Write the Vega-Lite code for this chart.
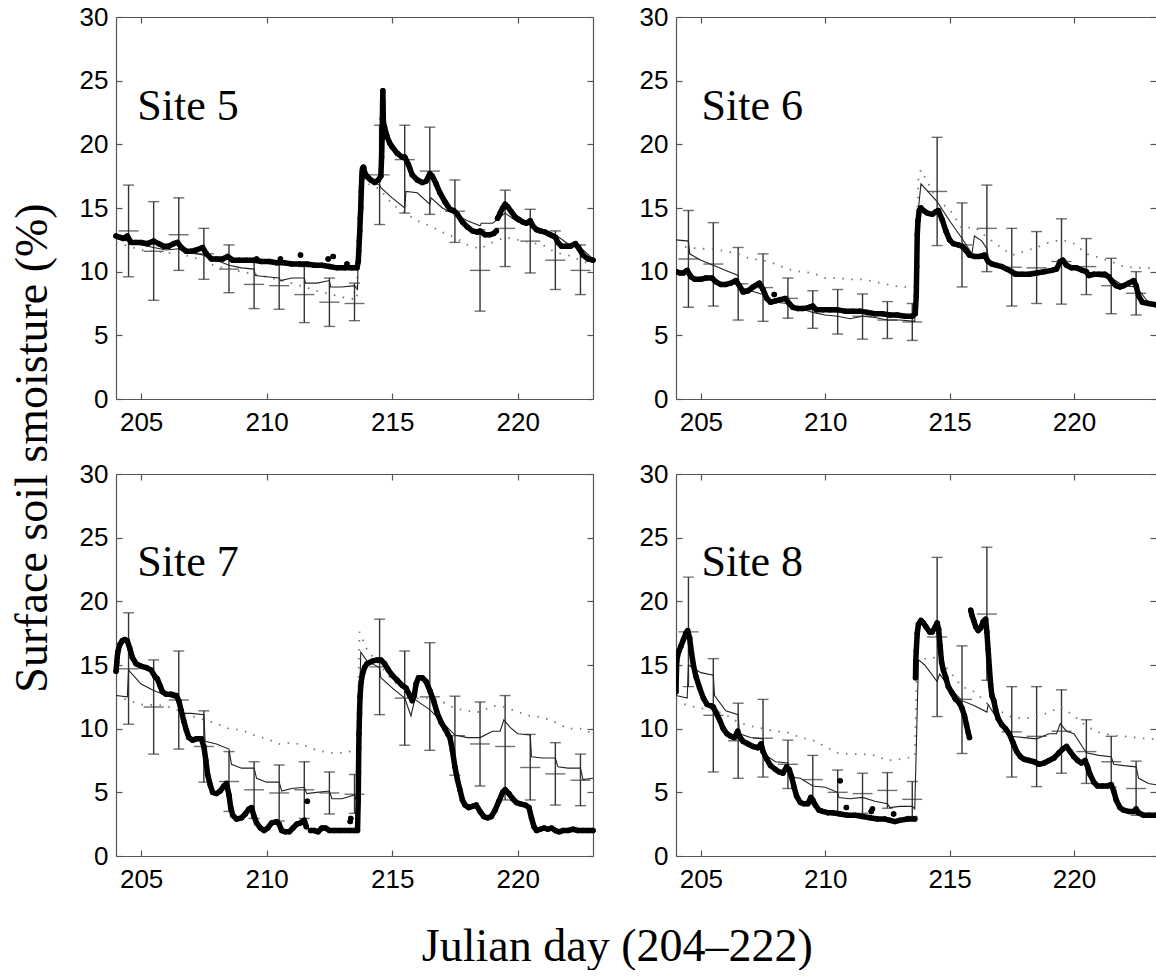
{
"$schema": "https://vega.github.io/schema/vega-lite/v6.json",
"background": "white",
"padding": {"left": 10, "top": 4, "right": 0, "bottom": 0},
"config": {
  "view": {"stroke": null},
  "axis": {"grid": false, "domainColor": "#555", "tickColor": "#555", "domainWidth": 1.2, "tickWidth": 1.2, "tickSize": -6, "labelFont": "Liberation Sans", "labelFontSize": 26, "labelColor": "#000", "labelFlush": false, "labelOverlap": false, "titleFontSize": 10},
  "axisBottom": {"labelPadding": 16},
  "axisLeft": {"labelPadding": 14},
  "axisTop": {"labels": false},
  "axisRight": {"labels": false},
  "title": {"font": "Liberation Serif", "fontSize": 46, "fontWeight": "normal", "color": "#000"}
},
"datasets": {
"err": [
{"s":5,"x":204.5,"lo":9.6,"hi":16.8,"m":13.2},{"s":5,"x":205.5,"lo":7.75,"hi":15.5,"m":11.6},{"s":5,"x":206.5,"lo":10.1,"hi":15.8,"m":12.9},{"s":5,"x":207.5,"lo":9.4,"hi":13.4,"m":11.4},{"s":5,"x":208.5,"lo":8.35,"hi":12.1,"m":10.2},{"s":5,"x":209.5,"lo":7.1,"hi":11.0,"m":9.0},{"s":5,"x":210.5,"lo":7.05,"hi":10.8,"m":8.9},{"s":5,"x":211.5,"lo":6.0,"hi":10.4,"m":8.2},{"s":5,"x":212.5,"lo":5.7,"hi":9.5,"m":7.6},{"s":5,"x":213.5,"lo":6.15,"hi":9.1,"m":7.5},{"s":5,"x":214.5,"lo":13.7,"hi":21.5,"m":17.6},{"s":5,"x":215.5,"lo":14.6,"hi":21.5,"m":18.8},{"s":5,"x":216.5,"lo":14.5,"hi":21.35,"m":17.9},{"s":5,"x":217.5,"lo":12.3,"hi":17.2,"m":14.75},{"s":5,"x":218.5,"lo":6.9,"hi":13.3,"m":10.1},{"s":5,"x":219.5,"lo":10.4,"hi":16.4,"m":13.4},{"s":5,"x":220.5,"lo":9.9,"hi":14.9,"m":12.4},{"s":5,"x":221.5,"lo":8.6,"hi":13.2,"m":10.9},{"s":5,"x":222.5,"lo":8.2,"hi":12.1,"m":10.1},
{"s":6,"x":204.5,"lo":7.2,"hi":14.8,"m":11.0},{"s":6,"x":205.5,"lo":7.3,"hi":13.85,"m":10.6},{"s":6,"x":206.5,"lo":6.2,"hi":11.9,"m":9.05},{"s":6,"x":207.5,"lo":6.1,"hi":11.4,"m":8.75},{"s":6,"x":208.5,"lo":6.35,"hi":9.5,"m":7.9},{"s":6,"x":209.5,"lo":5.55,"hi":8.5,"m":7.0},{"s":6,"x":210.5,"lo":5.1,"hi":8.6,"m":6.85},{"s":6,"x":211.5,"lo":4.7,"hi":8.25,"m":6.5},{"s":6,"x":212.5,"lo":4.75,"hi":7.65,"m":6.2},{"s":6,"x":213.5,"lo":4.6,"hi":7.5,"m":6.05},{"s":6,"x":214.5,"lo":12.05,"hi":20.55,"m":16.3},{"s":6,"x":215.5,"lo":8.8,"hi":15.4,"m":12.1},{"s":6,"x":216.5,"lo":10.0,"hi":16.8,"m":13.4},{"s":6,"x":217.5,"lo":7.3,"hi":13.4,"m":10.35},{"s":6,"x":218.5,"lo":7.5,"hi":13.15,"m":10.3},{"s":6,"x":219.5,"lo":7.45,"hi":14.15,"m":10.8},{"s":6,"x":220.5,"lo":8.2,"hi":12.6,"m":10.4},{"s":6,"x":221.5,"lo":6.7,"hi":11.05,"m":8.9},{"s":6,"x":222.5,"lo":6.6,"hi":10.0,"m":8.3},
{"s":7,"x":204.5,"lo":10.35,"hi":19.1,"m":14.7},{"s":7,"x":205.5,"lo":8.0,"hi":15.4,"m":11.7},{"s":7,"x":206.5,"lo":8.4,"hi":16.1,"m":12.25},{"s":7,"x":207.5,"lo":5.8,"hi":11.4,"m":8.6},{"s":7,"x":208.5,"lo":3.5,"hi":8.2,"m":5.85},{"s":7,"x":209.5,"lo":2.95,"hi":7.4,"m":5.2},{"s":7,"x":210.5,"lo":2.75,"hi":7.15,"m":4.95},{"s":7,"x":211.5,"lo":2.95,"hi":7.4,"m":5.2},{"s":7,"x":212.5,"lo":3.3,"hi":6.6,"m":4.95},{"s":7,"x":213.5,"lo":3.35,"hi":6.4,"m":4.85},{"s":7,"x":214.5,"lo":11.1,"hi":18.6,"m":14.85},{"s":7,"x":215.5,"lo":8.7,"hi":16.1,"m":12.4},{"s":7,"x":216.5,"lo":8.3,"hi":16.75,"m":12.5},{"s":7,"x":217.5,"lo":6.35,"hi":12.55,"m":9.45},{"s":7,"x":218.5,"lo":5.5,"hi":12.1,"m":8.8},{"s":7,"x":219.5,"lo":4.4,"hi":12.6,"m":8.6},{"s":7,"x":220.5,"lo":4.4,"hi":9.55,"m":6.95},{"s":7,"x":221.5,"lo":4.0,"hi":8.9,"m":6.45},{"s":7,"x":222.5,"lo":3.95,"hi":8.0,"m":5.95},
{"s":8,"x":204.5,"lo":13.3,"hi":21.9,"m":17.6},{"s":8,"x":205.5,"lo":6.6,"hi":15.5,"m":11.05},{"s":8,"x":206.5,"lo":6.1,"hi":12.0,"m":9.05},{"s":8,"x":207.5,"lo":6.2,"hi":12.3,"m":9.25},{"s":8,"x":208.5,"lo":5.3,"hi":9.1,"m":7.2},{"s":8,"x":209.5,"lo":4.1,"hi":7.9,"m":6.0},{"s":8,"x":210.5,"lo":3.3,"hi":6.75,"m":5.0},{"s":8,"x":211.5,"lo":3.35,"hi":6.5,"m":4.9},{"s":8,"x":212.5,"lo":3.75,"hi":6.55,"m":5.15},{"s":8,"x":213.5,"lo":3.1,"hi":5.85,"m":4.45},{"s":8,"x":214.5,"lo":10.95,"hi":23.45,"m":17.2},{"s":8,"x":215.5,"lo":8.05,"hi":16.5,"m":12.3},{"s":8,"x":216.5,"lo":13.8,"hi":24.25,"m":19.0},{"s":8,"x":217.5,"lo":6.2,"hi":13.3,"m":9.75},{"s":8,"x":218.5,"lo":5.45,"hi":13.3,"m":9.4},{"s":8,"x":219.5,"lo":6.5,"hi":13.05,"m":9.8},{"s":8,"x":220.5,"lo":5.7,"hi":10.7,"m":8.2},{"s":8,"x":221.5,"lo":5.4,"hi":9.4,"m":7.4},{"s":8,"x":222.5,"lo":3.2,"hi":7.45,"m":5.3}
],
"dot": [
{"s":5,"x":204.0,"y":12.3},{"s":5,"x":204.5,"y":12.0},{"s":5,"x":205.0,"y":11.7},{"s":5,"x":206.0,"y":11.5},{"s":5,"x":207.0,"y":11.2},{"s":5,"x":208.0,"y":10.4},{"s":5,"x":209.0,"y":10.0},{"s":5,"x":210.0,"y":9.6},{"s":5,"x":211.0,"y":9.1},{"s":5,"x":212.0,"y":8.5},{"s":5,"x":213.0,"y":8.0},{"s":5,"x":213.6,"y":7.8},{"s":5,"x":213.7,"y":17.2},{"s":5,"x":214.5,"y":16.5},{"s":5,"x":215.0,"y":15.3},{"s":5,"x":215.5,"y":14.6},{"s":5,"x":216.0,"y":14.0},{"s":5,"x":216.5,"y":13.6},{"s":5,"x":217.0,"y":13.1},{"s":5,"x":217.5,"y":12.7},{"s":5,"x":218.0,"y":12.1},{"s":5,"x":218.5,"y":11.8},{"s":5,"x":219.0,"y":12.3},{"s":5,"x":219.5,"y":12.7},{"s":5,"x":220.0,"y":12.5},{"s":5,"x":220.5,"y":12.3},{"s":5,"x":221.0,"y":12.1},{"s":5,"x":221.5,"y":11.5},{"s":5,"x":222.0,"y":11.3},{"s":5,"x":222.5,"y":10.9},{"s":5,"x":223.0,"y":10.5},
{"s":6,"x":204.0,"y":12.0},{"s":6,"x":205.0,"y":11.8},{"s":6,"x":205.5,"y":11.8},{"s":6,"x":206.0,"y":11.6},{"s":6,"x":206.5,"y":11.4},{"s":6,"x":207.0,"y":11.0},{"s":6,"x":207.5,"y":10.9},{"s":6,"x":208.0,"y":10.6},{"s":6,"x":208.5,"y":10.2},{"s":6,"x":209.0,"y":10.0},{"s":6,"x":209.5,"y":9.9},{"s":6,"x":210.0,"y":9.5},{"s":6,"x":210.5,"y":9.5},{"s":6,"x":211.0,"y":9.4},{"s":6,"x":211.5,"y":9.4},{"s":6,"x":212.0,"y":9.2},{"s":6,"x":212.5,"y":9.0},{"s":6,"x":213.0,"y":8.8},{"s":6,"x":213.6,"y":8.8},{"s":6,"x":213.75,"y":17.5},{"s":6,"x":213.85,"y":18.0},{"s":6,"x":214.5,"y":15.6},{"s":6,"x":215.0,"y":14.9},{"s":6,"x":215.5,"y":13.4},{"s":6,"x":216.0,"y":13.5},{"s":6,"x":216.5,"y":12.7},{"s":6,"x":217.0,"y":12.0},{"s":6,"x":217.5,"y":11.3},{"s":6,"x":218.0,"y":11.6},{"s":6,"x":218.5,"y":11.9},{"s":6,"x":219.0,"y":12.3},{"s":6,"x":219.5,"y":12.5},{"s":6,"x":220.0,"y":12.2},{"s":6,"x":220.5,"y":11.4},{"s":6,"x":221.0,"y":11.1},{"s":6,"x":221.5,"y":10.8},{"s":6,"x":222.0,"y":10.4},{"s":6,"x":222.5,"y":10.3},{"s":6,"x":223.0,"y":10.3},{"s":6,"x":223.3,"y":10.2},
{"s":7,"x":204.0,"y":12.6},{"s":7,"x":204.5,"y":12.2},{"s":7,"x":205.0,"y":11.9},{"s":7,"x":206.0,"y":11.8},{"s":7,"x":207.0,"y":11.0},{"s":7,"x":208.0,"y":10.4},{"s":7,"x":208.5,"y":10.0},{"s":7,"x":209.0,"y":9.9},{"s":7,"x":209.5,"y":9.5},{"s":7,"x":210.0,"y":9.2},{"s":7,"x":210.5,"y":8.8},{"s":7,"x":211.0,"y":8.9},{"s":7,"x":211.5,"y":8.7},{"s":7,"x":212.0,"y":8.3},{"s":7,"x":212.5,"y":8.1},{"s":7,"x":213.0,"y":8.1},{"s":7,"x":213.6,"y":8.3},{"s":7,"x":213.7,"y":17.6},{"s":7,"x":214.0,"y":16.2},{"s":7,"x":214.5,"y":15.0},{"s":7,"x":215.0,"y":13.8},{"s":7,"x":215.5,"y":13.1},{"s":7,"x":216.0,"y":12.4},{"s":7,"x":216.5,"y":12.4},{"s":7,"x":217.0,"y":12.1},{"s":7,"x":217.5,"y":11.6},{"s":7,"x":218.0,"y":11.4},{"s":7,"x":218.5,"y":11.3},{"s":7,"x":219.0,"y":11.8},{"s":7,"x":219.5,"y":11.7},{"s":7,"x":220.0,"y":11.3},{"s":7,"x":220.5,"y":11.0},{"s":7,"x":221.0,"y":10.9},{"s":7,"x":221.5,"y":10.5},{"s":7,"x":222.0,"y":10.0},{"s":7,"x":222.5,"y":10.0},{"s":7,"x":223.0,"y":9.6},
{"s":8,"x":204.0,"y":12.2},{"s":8,"x":204.5,"y":11.8},{"s":8,"x":205.0,"y":11.6},{"s":8,"x":205.5,"y":11.5},{"s":8,"x":206.0,"y":11.1},{"s":8,"x":206.5,"y":10.5},{"s":8,"x":207.0,"y":10.2},{"s":8,"x":207.5,"y":10.0},{"s":8,"x":208.0,"y":9.8},{"s":8,"x":208.5,"y":9.7},{"s":8,"x":209.0,"y":9.3},{"s":8,"x":209.5,"y":9.1},{"s":8,"x":210.0,"y":8.6},{"s":8,"x":210.5,"y":8.1},{"s":8,"x":211.0,"y":8.0},{"s":8,"x":211.5,"y":8.0},{"s":8,"x":212.0,"y":7.9},{"s":8,"x":212.5,"y":7.5},{"s":8,"x":213.0,"y":7.6},{"s":8,"x":213.6,"y":7.8},{"s":8,"x":213.7,"y":15.8},{"s":8,"x":214.0,"y":15.5},{"s":8,"x":214.5,"y":15.6},{"s":8,"x":215.0,"y":14.5},{"s":8,"x":215.5,"y":13.3},{"s":8,"x":216.0,"y":12.9},{"s":8,"x":216.5,"y":12.0},{"s":8,"x":217.0,"y":11.4},{"s":8,"x":217.5,"y":10.9},{"s":8,"x":218.0,"y":10.8},{"s":8,"x":218.5,"y":10.9},{"s":8,"x":219.0,"y":11.3},{"s":8,"x":219.5,"y":11.7},{"s":8,"x":220.0,"y":11.0},{"s":8,"x":220.5,"y":10.2},{"s":8,"x":221.0,"y":9.7},{"s":8,"x":221.5,"y":9.5},{"s":8,"x":222.0,"y":9.4},{"s":8,"x":222.5,"y":9.3},{"s":8,"x":223.0,"y":9.2},{"s":8,"x":223.3,"y":9.2}
],
"mod": [
{"s":5,"x":204.0,"y":12.6},{"s":5,"x":204.5,"y":12.4},{"s":5,"x":205.0,"y":12.1},{"s":5,"x":205.5,"y":11.9},{"s":5,"x":206.0,"y":11.7},{"s":5,"x":206.5,"y":11.8},{"s":5,"x":207.0,"y":11.5},{"s":5,"x":207.5,"y":11.3},{"s":5,"x":208.0,"y":10.9},{"s":5,"x":208.5,"y":10.5},{"s":5,"x":209.0,"y":10.3},{"s":5,"x":209.5,"y":10.2},{"s":5,"x":209.55,"y":9.7},{"s":5,"x":210.0,"y":9.6},{"s":5,"x":210.5,"y":9.5},{"s":5,"x":210.55,"y":9.3},{"s":5,"x":211.0,"y":9.5},{"s":5,"x":211.5,"y":9.5},{"s":5,"x":211.55,"y":9.1},{"s":5,"x":212.0,"y":9.1},{"s":5,"x":212.5,"y":9.3},{"s":5,"x":212.55,"y":8.8},{"s":5,"x":213.0,"y":8.8},{"s":5,"x":213.5,"y":8.9},{"s":5,"x":213.62,"y":8.6},{"s":5,"x":213.72,"y":17.9},{"s":5,"x":214.0,"y":17.2},{"s":5,"x":214.5,"y":16.8},{"s":5,"x":214.55,"y":16.6},{"s":5,"x":215.0,"y":15.8},{"s":5,"x":215.5,"y":15.0},{"s":5,"x":215.55,"y":16.3},{"s":5,"x":216.0,"y":16.2},{"s":5,"x":216.5,"y":15.3},{"s":5,"x":216.55,"y":15.8},{"s":5,"x":217.0,"y":15.0},{"s":5,"x":217.5,"y":14.5},{"s":5,"x":218.0,"y":14.0},{"s":5,"x":218.5,"y":13.6},{"s":5,"x":218.55,"y":13.8},{"s":5,"x":219.0,"y":13.8},{"s":5,"x":219.5,"y":14.6},{"s":5,"x":220.0,"y":13.9},{"s":5,"x":220.5,"y":13.7},{"s":5,"x":221.0,"y":13.3},{"s":5,"x":221.5,"y":12.9},{"s":5,"x":222.0,"y":12.2},{"s":5,"x":222.5,"y":11.9},{"s":5,"x":223.0,"y":11.0},
{"s":6,"x":204.0,"y":12.5},{"s":6,"x":204.5,"y":12.4},{"s":6,"x":204.55,"y":11.4},{"s":6,"x":205.0,"y":10.9},{"s":6,"x":205.5,"y":10.5},{"s":6,"x":206.0,"y":10.1},{"s":6,"x":206.5,"y":9.7},{"s":6,"x":206.55,"y":8.8},{"s":6,"x":207.0,"y":8.5},{"s":6,"x":207.5,"y":8.2},{"s":6,"x":208.0,"y":7.6},{"s":6,"x":208.5,"y":7.5},{"s":6,"x":209.0,"y":7.1},{"s":6,"x":209.5,"y":6.8},{"s":6,"x":210.0,"y":6.6},{"s":6,"x":210.5,"y":6.5},{"s":6,"x":211.0,"y":6.3},{"s":6,"x":211.5,"y":6.5},{"s":6,"x":212.0,"y":6.4},{"s":6,"x":212.5,"y":6.2},{"s":6,"x":213.0,"y":6.2},{"s":6,"x":213.6,"y":6.1},{"s":6,"x":213.7,"y":14.0},{"s":6,"x":213.85,"y":16.9},{"s":6,"x":214.5,"y":15.5},{"s":6,"x":215.0,"y":14.0},{"s":6,"x":215.5,"y":12.6},{"s":6,"x":215.9,"y":11.4},{"s":6,"x":216.0,"y":12.8},{"s":6,"x":216.3,"y":12.4},{"s":6,"x":216.5,"y":11.8},{"s":6,"x":216.6,"y":10.6},{"s":6,"x":217.0,"y":10.5},{"s":6,"x":217.5,"y":10.1},{"s":6,"x":218.0,"y":9.8},{"s":6,"x":218.5,"y":9.9},{"s":6,"x":219.0,"y":10.1},{"s":6,"x":219.5,"y":10.7},{"s":6,"x":220.0,"y":10.3},{"s":6,"x":220.5,"y":9.9},{"s":6,"x":221.0,"y":9.6},{"s":6,"x":221.5,"y":9.5},{"s":6,"x":222.0,"y":8.9},{"s":6,"x":222.5,"y":8.8},{"s":6,"x":223.0,"y":7.6},{"s":6,"x":223.3,"y":7.5},
{"s":7,"x":204.0,"y":12.6},{"s":7,"x":204.45,"y":12.5},{"s":7,"x":204.5,"y":14.6},{"s":7,"x":205.0,"y":13.5},{"s":7,"x":205.5,"y":13.0},{"s":7,"x":206.0,"y":12.6},{"s":7,"x":206.5,"y":12.3},{"s":7,"x":206.6,"y":11.2},{"s":7,"x":207.0,"y":11.2},{"s":7,"x":207.5,"y":11.1},{"s":7,"x":207.55,"y":9.0},{"s":7,"x":208.0,"y":8.8},{"s":7,"x":208.5,"y":8.4},{"s":7,"x":208.6,"y":7.2},{"s":7,"x":209.0,"y":6.9},{"s":7,"x":209.5,"y":6.9},{"s":7,"x":209.6,"y":6.1},{"s":7,"x":210.0,"y":5.8},{"s":7,"x":210.5,"y":5.8},{"s":7,"x":210.6,"y":5.1},{"s":7,"x":211.0,"y":5.3},{"s":7,"x":211.5,"y":5.4},{"s":7,"x":211.6,"y":4.9},{"s":7,"x":212.0,"y":5.0},{"s":7,"x":212.5,"y":5.1},{"s":7,"x":212.6,"y":4.5},{"s":7,"x":213.0,"y":4.5},{"s":7,"x":213.5,"y":4.8},{"s":7,"x":213.6,"y":4.3},{"s":7,"x":213.75,"y":16.0},{"s":7,"x":214.0,"y":15.3},{"s":7,"x":214.5,"y":14.8},{"s":7,"x":214.55,"y":14.0},{"s":7,"x":215.0,"y":13.2},{"s":7,"x":215.5,"y":12.4},{"s":7,"x":215.75,"y":11.0},{"s":7,"x":215.9,"y":12.3},{"s":7,"x":216.5,"y":11.5},{"s":7,"x":217.0,"y":10.5},{"s":7,"x":217.5,"y":9.5},{"s":7,"x":218.0,"y":9.3},{"s":7,"x":218.5,"y":9.3},{"s":7,"x":219.0,"y":9.8},{"s":7,"x":219.3,"y":9.8},{"s":7,"x":219.45,"y":10.7},{"s":7,"x":219.7,"y":10.1},{"s":7,"x":220.0,"y":9.6},{"s":7,"x":220.5,"y":9.5},{"s":7,"x":220.55,"y":7.8},{"s":7,"x":221.0,"y":7.7},{"s":7,"x":221.5,"y":7.7},{"s":7,"x":221.6,"y":7.0},{"s":7,"x":222.0,"y":6.9},{"s":7,"x":222.5,"y":6.9},{"s":7,"x":222.6,"y":6.0},{"s":7,"x":223.0,"y":6.1},
{"s":8,"x":204.0,"y":12.6},{"s":8,"x":204.45,"y":12.4},{"s":8,"x":204.5,"y":15.0},{"s":8,"x":205.0,"y":14.4},{"s":8,"x":205.5,"y":14.2},{"s":8,"x":205.55,"y":12.6},{"s":8,"x":206.0,"y":11.4},{"s":8,"x":206.5,"y":11.1},{"s":8,"x":206.55,"y":9.6},{"s":8,"x":207.0,"y":9.3},{"s":8,"x":207.5,"y":9.2},{"s":8,"x":207.55,"y":8.0},{"s":8,"x":208.0,"y":7.4},{"s":8,"x":208.5,"y":7.3},{"s":8,"x":208.55,"y":6.2},{"s":8,"x":209.0,"y":6.1},{"s":8,"x":209.5,"y":5.5},{"s":8,"x":210.0,"y":5.4},{"s":8,"x":210.5,"y":5.0},{"s":8,"x":210.55,"y":4.6},{"s":8,"x":211.0,"y":4.5},{"s":8,"x":211.5,"y":4.6},{"s":8,"x":212.0,"y":4.3},{"s":8,"x":212.5,"y":4.1},{"s":8,"x":212.6,"y":3.8},{"s":8,"x":213.0,"y":3.9},{"s":8,"x":213.5,"y":3.9},{"s":8,"x":213.6,"y":3.7},{"s":8,"x":213.75,"y":15.4},{"s":8,"x":214.0,"y":15.0},{"s":8,"x":214.5,"y":13.7},{"s":8,"x":214.6,"y":14.3},{"s":8,"x":215.0,"y":13.2},{"s":8,"x":215.5,"y":12.2},{"s":8,"x":216.0,"y":11.8},{"s":8,"x":216.5,"y":11.3},{"s":8,"x":216.55,"y":11.9},{"s":8,"x":217.0,"y":10.5},{"s":8,"x":217.5,"y":9.4},{"s":8,"x":218.0,"y":9.3},{"s":8,"x":218.5,"y":9.2},{"s":8,"x":219.0,"y":9.6},{"s":8,"x":219.3,"y":9.6},{"s":8,"x":219.45,"y":10.4},{"s":8,"x":219.7,"y":9.8},{"s":8,"x":220.0,"y":9.6},{"s":8,"x":220.5,"y":8.1},{"s":8,"x":221.0,"y":7.9},{"s":8,"x":221.5,"y":7.8},{"s":8,"x":221.6,"y":7.2},{"s":8,"x":222.0,"y":7.1},{"s":8,"x":222.5,"y":7.0},{"s":8,"x":222.6,"y":6.1},{"s":8,"x":223.0,"y":5.7},{"s":8,"x":223.3,"y":5.6}
],
"obs": [
{"s":5,"g":1,"x":204.0,"y":12.8},{"s":5,"g":1,"x":204.15,"y":12.7},{"s":5,"g":1,"x":204.3,"y":12.6},{"s":5,"g":1,"x":204.45,"y":12.8},{"s":5,"g":1,"x":204.6,"y":12.3},{"s":5,"g":1,"x":204.8,"y":12.3},{"s":5,"g":1,"x":205.0,"y":12.3},{"s":5,"g":1,"x":205.25,"y":12.2},{"s":5,"g":1,"x":205.5,"y":12.4},{"s":5,"g":1,"x":205.7,"y":12.2},{"s":5,"g":1,"x":205.9,"y":12.0},{"s":5,"g":1,"x":206.1,"y":12.0},{"s":5,"g":1,"x":206.3,"y":12.2},{"s":5,"g":1,"x":206.45,"y":12.3},{"s":5,"g":1,"x":206.6,"y":11.9},{"s":5,"g":1,"x":206.8,"y":11.6},{"s":5,"g":1,"x":207.0,"y":11.6},{"s":5,"g":1,"x":207.2,"y":11.7},{"s":5,"g":1,"x":207.45,"y":11.9},{"s":5,"g":1,"x":207.6,"y":11.4},{"s":5,"g":1,"x":207.8,"y":11.0},{"s":5,"g":1,"x":208.0,"y":11.0},{"s":5,"g":1,"x":208.25,"y":11.0},{"s":5,"g":1,"x":208.45,"y":11.2},{"s":5,"g":1,"x":208.65,"y":10.9},{"s":5,"g":1,"x":208.9,"y":10.9},{"s":5,"g":1,"x":209.2,"y":10.9},{"s":5,"g":1,"x":209.5,"y":10.9},{"s":5,"g":1,"x":209.8,"y":10.8},{"s":5,"g":1,"x":210.1,"y":10.8},{"s":5,"g":1,"x":210.4,"y":10.7},{"s":5,"g":1,"x":210.7,"y":10.7},{"s":5,"g":1,"x":211.0,"y":10.6},{"s":5,"g":1,"x":211.3,"y":10.6},{"s":5,"g":1,"x":211.6,"y":10.6},{"s":5,"g":1,"x":211.9,"y":10.5},{"s":5,"g":1,"x":212.2,"y":10.5},{"s":5,"g":1,"x":212.5,"y":10.4},{"s":5,"g":1,"x":212.8,"y":10.3},{"s":5,"g":1,"x":213.1,"y":10.3},{"s":5,"g":1,"x":213.4,"y":10.3},{"s":5,"g":1,"x":213.6,"y":10.3},{"s":5,"g":1,"x":213.65,"y":10.8},{"s":5,"g":1,"x":213.67,"y":11.6},{"s":5,"g":1,"x":213.69,"y":12.4},{"s":5,"g":1,"x":213.71,"y":13.2},{"s":5,"g":1,"x":213.73,"y":14.2},{"s":5,"g":1,"x":213.75,"y":15.0},{"s":5,"g":1,"x":213.77,"y":16.3},{"s":5,"g":1,"x":213.79,"y":17.3},{"s":5,"g":1,"x":213.82,"y":18.1},{"s":5,"g":1,"x":213.86,"y":18.2},{"s":5,"g":1,"x":213.92,"y":17.7},{"s":5,"g":1,"x":214.0,"y":17.5},{"s":5,"g":1,"x":214.15,"y":17.2},{"s":5,"g":1,"x":214.3,"y":17.0},{"s":5,"g":1,"x":214.45,"y":17.2},{"s":5,"g":1,"x":214.55,"y":17.5},{"s":5,"g":1,"x":214.58,"y":19.0},{"s":5,"g":1,"x":214.6,"y":20.5},{"s":5,"g":1,"x":214.61,"y":22.0},{"s":5,"g":1,"x":214.62,"y":23.2},{"s":5,"g":1,"x":214.63,"y":24.2},{"s":5,"g":1,"x":214.65,"y":21.8},{"s":5,"g":1,"x":214.7,"y":21.3},{"s":5,"g":1,"x":214.8,"y":20.6},{"s":5,"g":1,"x":214.9,"y":20.1},{"s":5,"g":1,"x":215.0,"y":19.8},{"s":5,"g":1,"x":215.2,"y":19.3},{"s":5,"g":1,"x":215.4,"y":19.0},{"s":5,"g":1,"x":215.5,"y":19.0},{"s":5,"g":1,"x":215.65,"y":18.4},{"s":5,"g":1,"x":215.8,"y":17.6},{"s":5,"g":1,"x":216.0,"y":17.2},{"s":5,"g":1,"x":216.2,"y":17.0},{"s":5,"g":1,"x":216.35,"y":17.1},{"s":5,"g":1,"x":216.5,"y":17.7},{"s":5,"g":1,"x":216.6,"y":17.5},{"s":5,"g":1,"x":216.75,"y":16.9},{"s":5,"g":1,"x":216.9,"y":16.2},{"s":5,"g":1,"x":217.1,"y":15.5},{"s":5,"g":1,"x":217.3,"y":14.9},{"s":5,"g":1,"x":217.45,"y":14.8},{"s":5,"g":1,"x":217.6,"y":14.5},{"s":5,"g":1,"x":217.8,"y":13.9},{"s":5,"g":1,"x":218.0,"y":13.5},{"s":5,"g":1,"x":218.2,"y":13.2},{"s":5,"g":1,"x":218.4,"y":13.1},{"s":5,"g":1,"x":218.5,"y":13.2},{"s":5,"g":1,"x":218.7,"y":12.9},{"s":5,"g":1,"x":218.9,"y":12.9},{"s":5,"g":1,"x":219.05,"y":13.0},{"s":5,"g":1,"x":219.15,"y":13.2},
{"s":5,"g":2,"x":219.2,"y":14.2},{"s":5,"g":2,"x":219.3,"y":14.6},{"s":5,"g":2,"x":219.4,"y":15.0},{"s":5,"g":2,"x":219.5,"y":15.3},{"s":5,"g":2,"x":219.6,"y":15.1},{"s":5,"g":2,"x":219.75,"y":14.7},{"s":5,"g":2,"x":219.9,"y":14.3},{"s":5,"g":2,"x":220.05,"y":14.1},{"s":5,"g":2,"x":220.2,"y":13.9},{"s":5,"g":2,"x":220.35,"y":13.8},{"s":5,"g":2,"x":220.5,"y":14.0},{"s":5,"g":2,"x":220.6,"y":13.6},{"s":5,"g":2,"x":220.75,"y":13.3},{"s":5,"g":2,"x":220.9,"y":13.2},{"s":5,"g":2,"x":221.1,"y":13.1},{"s":5,"g":2,"x":221.3,"y":12.9},{"s":5,"g":2,"x":221.5,"y":12.7},{"s":5,"g":2,"x":221.6,"y":12.3},{"s":5,"g":2,"x":221.75,"y":12.0},{"s":5,"g":2,"x":221.9,"y":12.0},{"s":5,"g":2,"x":222.1,"y":12.0},{"s":5,"g":2,"x":222.3,"y":12.2},{"s":5,"g":2,"x":222.45,"y":11.8},{"s":5,"g":2,"x":222.6,"y":11.3},{"s":5,"g":2,"x":222.8,"y":11.0},{"s":5,"g":2,"x":223.0,"y":10.9},
{"s":5,"g":101,"x":211.35,"y":11.3},{"s":5,"g":102,"x":212.45,"y":11.0},{"s":5,"g":103,"x":212.65,"y":11.2},{"s":5,"g":104,"x":213.2,"y":10.6},{"s":5,"g":105,"x":210.55,"y":11.0},{"s":5,"g":106,"x":209.6,"y":11.0},
{"s":6,"g":1,"x":204.0,"y":10.0},{"s":6,"g":1,"x":204.15,"y":9.9},{"s":6,"g":1,"x":204.3,"y":9.9},{"s":6,"g":1,"x":204.45,"y":10.1},{"s":6,"g":1,"x":204.6,"y":9.6},{"s":6,"g":1,"x":204.75,"y":9.4},{"s":6,"g":1,"x":205.0,"y":9.4},{"s":6,"g":1,"x":205.2,"y":9.5},{"s":6,"g":1,"x":205.45,"y":9.5},{"s":6,"g":1,"x":205.6,"y":9.2},{"s":6,"g":1,"x":205.8,"y":9.0},{"s":6,"g":1,"x":206.0,"y":9.0},{"s":6,"g":1,"x":206.2,"y":9.1},{"s":6,"g":1,"x":206.4,"y":9.3},{"s":6,"g":1,"x":206.55,"y":8.9},{"s":6,"g":1,"x":206.7,"y":8.4},{"s":6,"g":1,"x":206.9,"y":8.5},{"s":6,"g":1,"x":207.1,"y":8.8},{"s":6,"g":1,"x":207.35,"y":9.1},{"s":6,"g":1,"x":207.5,"y":8.6},{"s":6,"g":1,"x":207.65,"y":7.9},{"s":6,"g":1,"x":207.8,"y":7.6},{"s":6,"g":1,"x":208.0,"y":7.7},{"s":6,"g":1,"x":208.2,"y":7.8},{"s":6,"g":1,"x":208.4,"y":7.9},{"s":6,"g":1,"x":208.55,"y":7.5},{"s":6,"g":1,"x":208.7,"y":7.2},{"s":6,"g":1,"x":208.9,"y":7.1},{"s":6,"g":1,"x":209.1,"y":7.1},{"s":6,"g":1,"x":209.35,"y":7.2},{"s":6,"g":1,"x":209.5,"y":7.3},{"s":6,"g":1,"x":209.65,"y":7.0},{"s":6,"g":1,"x":209.9,"y":7.0},{"s":6,"g":1,"x":210.2,"y":7.0},{"s":6,"g":1,"x":210.5,"y":7.0},{"s":6,"g":1,"x":210.8,"y":6.9},{"s":6,"g":1,"x":211.1,"y":6.9},{"s":6,"g":1,"x":211.4,"y":6.9},{"s":6,"g":1,"x":211.7,"y":6.8},{"s":6,"g":1,"x":212.0,"y":6.7},{"s":6,"g":1,"x":212.3,"y":6.7},{"s":6,"g":1,"x":212.6,"y":6.6},{"s":6,"g":1,"x":212.9,"y":6.6},{"s":6,"g":1,"x":213.2,"y":6.5},{"s":6,"g":1,"x":213.5,"y":6.5},{"s":6,"g":1,"x":213.62,"y":6.7},{"s":6,"g":1,"x":213.66,"y":8.1},{"s":6,"g":1,"x":213.68,"y":10.4},{"s":6,"g":1,"x":213.7,"y":12.9},{"s":6,"g":1,"x":213.73,"y":14.0},{"s":6,"g":1,"x":213.78,"y":14.8},{"s":6,"g":1,"x":213.85,"y":15.0},{"s":6,"g":1,"x":213.95,"y":14.8},{"s":6,"g":1,"x":214.1,"y":14.6},{"s":6,"g":1,"x":214.3,"y":14.5},{"s":6,"g":1,"x":214.45,"y":14.7},{"s":6,"g":1,"x":214.55,"y":14.8},{"s":6,"g":1,"x":214.7,"y":14.1},{"s":6,"g":1,"x":214.85,"y":13.2},{"s":6,"g":1,"x":215.0,"y":12.5},{"s":6,"g":1,"x":215.15,"y":12.2},{"s":6,"g":1,"x":215.35,"y":12.1},{"s":6,"g":1,"x":215.5,"y":12.0},{"s":6,"g":1,"x":215.65,"y":11.7},{"s":6,"g":1,"x":215.8,"y":11.3},{"s":6,"g":1,"x":216.0,"y":11.2},{"s":6,"g":1,"x":216.2,"y":11.2},{"s":6,"g":1,"x":216.4,"y":11.3},{"s":6,"g":1,"x":216.55,"y":10.8},{"s":6,"g":1,"x":216.7,"y":10.6},{"s":6,"g":1,"x":216.9,"y":10.5},{"s":6,"g":1,"x":217.1,"y":10.4},{"s":6,"g":1,"x":217.3,"y":10.2},{"s":6,"g":1,"x":217.5,"y":10.0},{"s":6,"g":1,"x":217.65,"y":9.8},{"s":6,"g":1,"x":217.9,"y":9.8},{"s":6,"g":1,"x":218.2,"y":9.8},{"s":6,"g":1,"x":218.5,"y":9.9},{"s":6,"g":1,"x":218.8,"y":10.0},{"s":6,"g":1,"x":219.1,"y":10.1},{"s":6,"g":1,"x":219.3,"y":10.2},{"s":6,"g":1,"x":219.45,"y":10.8},{"s":6,"g":1,"x":219.55,"y":10.9},{"s":6,"g":1,"x":219.7,"y":10.5},{"s":6,"g":1,"x":219.9,"y":10.3},{"s":6,"g":1,"x":220.1,"y":10.3},{"s":6,"g":1,"x":220.35,"y":10.1},{"s":6,"g":1,"x":220.5,"y":10.0},{"s":6,"g":1,"x":220.6,"y":9.7},{"s":6,"g":1,"x":220.8,"y":9.8},{"s":6,"g":1,"x":221.0,"y":9.8},{"s":6,"g":1,"x":221.25,"y":9.8},{"s":6,"g":1,"x":221.4,"y":9.6},{"s":6,"g":1,"x":221.55,"y":9.2},{"s":6,"g":1,"x":221.7,"y":8.9},{"s":6,"g":1,"x":221.85,"y":8.8},{"s":6,"g":1,"x":222.0,"y":8.9},{"s":6,"g":1,"x":222.2,"y":9.1},{"s":6,"g":1,"x":222.4,"y":9.3},{"s":6,"g":1,"x":222.5,"y":8.9},{"s":6,"g":1,"x":222.6,"y":8.1},{"s":6,"g":1,"x":222.75,"y":7.6},{"s":6,"g":1,"x":223.0,"y":7.5},{"s":6,"g":1,"x":223.3,"y":7.4},
{"s":6,"g":101,"x":207.95,"y":8.2},
{"s":7,"g":1,"x":204.0,"y":14.5},{"s":7,"g":1,"x":204.03,"y":15.2},{"s":7,"g":1,"x":204.07,"y":16.0},{"s":7,"g":1,"x":204.15,"y":16.6},{"s":7,"g":1,"x":204.25,"y":16.9},{"s":7,"g":1,"x":204.35,"y":17.0},{"s":7,"g":1,"x":204.45,"y":16.9},{"s":7,"g":1,"x":204.55,"y":16.3},{"s":7,"g":1,"x":204.65,"y":15.6},{"s":7,"g":1,"x":204.8,"y":15.1},{"s":7,"g":1,"x":205.0,"y":14.9},{"s":7,"g":1,"x":205.2,"y":14.8},{"s":7,"g":1,"x":205.4,"y":14.6},{"s":7,"g":1,"x":205.55,"y":14.1},{"s":7,"g":1,"x":205.65,"y":13.9},{"s":7,"g":1,"x":205.75,"y":13.4},{"s":7,"g":1,"x":205.85,"y":12.9},{"s":7,"g":1,"x":206.0,"y":12.7},{"s":7,"g":1,"x":206.2,"y":12.7},{"s":7,"g":1,"x":206.4,"y":12.6},{"s":7,"g":1,"x":206.5,"y":12.2},{"s":7,"g":1,"x":206.6,"y":11.4},{"s":7,"g":1,"x":206.7,"y":10.6},{"s":7,"g":1,"x":206.8,"y":9.9},{"s":7,"g":1,"x":206.9,"y":9.3},{"s":7,"g":1,"x":207.05,"y":9.1},{"s":7,"g":1,"x":207.2,"y":9.2},{"s":7,"g":1,"x":207.4,"y":9.2},{"s":7,"g":1,"x":207.5,"y":8.6},{"s":7,"g":1,"x":207.58,"y":7.5},{"s":7,"g":1,"x":207.65,"y":6.4},{"s":7,"g":1,"x":207.75,"y":5.6},{"s":7,"g":1,"x":207.85,"y":5.0},{"s":7,"g":1,"x":208.0,"y":4.9},{"s":7,"g":1,"x":208.15,"y":5.1},{"s":7,"g":1,"x":208.3,"y":5.5},{"s":7,"g":1,"x":208.4,"y":5.7},{"s":7,"g":1,"x":208.5,"y":4.8},{"s":7,"g":1,"x":208.57,"y":3.8},{"s":7,"g":1,"x":208.65,"y":3.2},{"s":7,"g":1,"x":208.8,"y":2.9},{"s":7,"g":1,"x":209.0,"y":3.0},{"s":7,"g":1,"x":209.15,"y":3.3},{"s":7,"g":1,"x":209.3,"y":3.7},{"s":7,"g":1,"x":209.4,"y":3.8},{"s":7,"g":1,"x":209.5,"y":3.1},{"s":7,"g":1,"x":209.6,"y":2.6},{"s":7,"g":1,"x":209.75,"y":2.2},{"s":7,"g":1,"x":209.9,"y":2.0},{"s":7,"g":1,"x":210.05,"y":2.2},{"s":7,"g":1,"x":210.2,"y":2.6},{"s":7,"g":1,"x":210.4,"y":2.7},{"s":7,"g":1,"x":210.5,"y":2.5},{"s":7,"g":1,"x":210.6,"y":2.0},{"s":7,"g":1,"x":210.75,"y":1.9},{"s":7,"g":1,"x":210.9,"y":1.9},{"s":7,"g":1,"x":211.05,"y":2.2},{"s":7,"g":1,"x":211.2,"y":2.5},{"s":7,"g":1,"x":211.35,"y":2.6},{"s":7,"g":1,"x":211.5,"y":2.8},{"s":7,"g":1,"x":211.58,"y":2.3},
{"s":7,"g":2,"x":211.75,"y":2.0},{"s":7,"g":2,"x":211.9,"y":2.0},{"s":7,"g":2,"x":212.05,"y":1.9},{"s":7,"g":2,"x":212.2,"y":2.2},{"s":7,"g":2,"x":212.35,"y":2.2},{"s":7,"g":2,"x":212.5,"y":2.0},{"s":7,"g":2,"x":212.7,"y":2.0},{"s":7,"g":2,"x":212.9,"y":2.0},{"s":7,"g":2,"x":213.1,"y":2.0},{"s":7,"g":2,"x":213.3,"y":2.0},{"s":7,"g":2,"x":213.5,"y":2.0},{"s":7,"g":2,"x":213.62,"y":2.0},{"s":7,"g":2,"x":213.65,"y":4.5},{"s":7,"g":2,"x":213.66,"y":6.6},{"s":7,"g":2,"x":213.67,"y":8.5},{"s":7,"g":2,"x":213.68,"y":9.6},{"s":7,"g":2,"x":213.7,"y":11.2},{"s":7,"g":2,"x":213.72,"y":12.5},{"s":7,"g":2,"x":213.76,"y":13.6},{"s":7,"g":2,"x":213.82,"y":14.3},{"s":7,"g":2,"x":213.9,"y":14.8},{"s":7,"g":2,"x":214.0,"y":15.1},{"s":7,"g":2,"x":214.2,"y":15.3},{"s":7,"g":2,"x":214.4,"y":15.4},{"s":7,"g":2,"x":214.55,"y":15.4},{"s":7,"g":2,"x":214.7,"y":15.1},{"s":7,"g":2,"x":214.85,"y":14.6},{"s":7,"g":2,"x":215.0,"y":14.2},{"s":7,"g":2,"x":215.2,"y":13.8},{"s":7,"g":2,"x":215.4,"y":13.4},{"s":7,"g":2,"x":215.55,"y":13.2},{"s":7,"g":2,"x":215.7,"y":12.6},{"s":7,"g":2,"x":215.8,"y":12.2},{"s":7,"g":2,"x":215.88,"y":12.6},{"s":7,"g":2,"x":215.95,"y":13.5},{"s":7,"g":2,"x":216.05,"y":14.0},{"s":7,"g":2,"x":216.2,"y":14.0},{"s":7,"g":2,"x":216.35,"y":13.7},{"s":7,"g":2,"x":216.5,"y":13.0},{"s":7,"g":2,"x":216.65,"y":12.2},{"s":7,"g":2,"x":216.8,"y":11.2},{"s":7,"g":2,"x":216.95,"y":10.5},{"s":7,"g":2,"x":217.1,"y":10.0},{"s":7,"g":2,"x":217.3,"y":9.3},{"s":7,"g":2,"x":217.4,"y":8.3},{"s":7,"g":2,"x":217.5,"y":7.0},{"s":7,"g":2,"x":217.6,"y":6.0},{"s":7,"g":2,"x":217.7,"y":5.2},{"s":7,"g":2,"x":217.8,"y":4.4},{"s":7,"g":2,"x":217.9,"y":4.0},{"s":7,"g":2,"x":218.05,"y":3.8},{"s":7,"g":2,"x":218.2,"y":3.9},{"s":7,"g":2,"x":218.35,"y":4.0},{"s":7,"g":2,"x":218.5,"y":3.5},{"s":7,"g":2,"x":218.65,"y":3.1},{"s":7,"g":2,"x":218.8,"y":3.0},{"s":7,"g":2,"x":218.95,"y":3.1},{"s":7,"g":2,"x":219.1,"y":3.6},{"s":7,"g":2,"x":219.25,"y":4.3},{"s":7,"g":2,"x":219.4,"y":5.0},{"s":7,"g":2,"x":219.5,"y":5.2},{"s":7,"g":2,"x":219.65,"y":4.9},{"s":7,"g":2,"x":219.8,"y":4.5},{"s":7,"g":2,"x":219.95,"y":4.2},{"s":7,"g":2,"x":220.1,"y":4.1},{"s":7,"g":2,"x":220.3,"y":4.0},{"s":7,"g":2,"x":220.45,"y":3.8},{"s":7,"g":2,"x":220.55,"y":3.0},{"s":7,"g":2,"x":220.65,"y":2.3},{"s":7,"g":2,"x":220.75,"y":2.0},{"s":7,"g":2,"x":220.9,"y":2.1},{"s":7,"g":2,"x":221.05,"y":2.2},{"s":7,"g":2,"x":221.2,"y":2.1},{"s":7,"g":2,"x":221.35,"y":2.2},{"s":7,"g":2,"x":221.5,"y":2.0},{"s":7,"g":2,"x":221.65,"y":1.9},{"s":7,"g":2,"x":221.8,"y":2.0},{"s":7,"g":2,"x":222.0,"y":2.0},{"s":7,"g":2,"x":222.2,"y":2.1},{"s":7,"g":2,"x":222.4,"y":2.0},{"s":7,"g":2,"x":222.6,"y":2.0},{"s":7,"g":2,"x":222.8,"y":2.0},{"s":7,"g":2,"x":223.0,"y":2.0},
{"s":7,"g":101,"x":211.62,"y":4.3},{"s":7,"g":102,"x":213.33,"y":2.7},{"s":7,"g":103,"x":213.35,"y":2.95},
{"s":8,"g":1,"x":204.0,"y":12.9},{"s":8,"g":1,"x":204.01,"y":13.9},{"s":8,"g":1,"x":204.03,"y":15.3},{"s":8,"g":1,"x":204.06,"y":15.7},{"s":8,"g":1,"x":204.12,"y":16.1},{"s":8,"g":1,"x":204.2,"y":16.5},{"s":8,"g":1,"x":204.3,"y":17.0},{"s":8,"g":1,"x":204.4,"y":17.5},{"s":8,"g":1,"x":204.47,"y":17.7},{"s":8,"g":1,"x":204.55,"y":17.1},{"s":8,"g":1,"x":204.62,"y":16.0},{"s":8,"g":1,"x":204.7,"y":15.0},{"s":8,"g":1,"x":204.8,"y":14.1},{"s":8,"g":1,"x":204.95,"y":13.2},{"s":8,"g":1,"x":205.1,"y":12.4},{"s":8,"g":1,"x":205.25,"y":11.9},{"s":8,"g":1,"x":205.4,"y":11.8},{"s":8,"g":1,"x":205.5,"y":11.7},{"s":8,"g":1,"x":205.6,"y":11.3},{"s":8,"g":1,"x":205.75,"y":10.7},{"s":8,"g":1,"x":205.9,"y":10.0},{"s":8,"g":1,"x":206.05,"y":9.6},{"s":8,"g":1,"x":206.2,"y":9.4},{"s":8,"g":1,"x":206.35,"y":9.3},{"s":8,"g":1,"x":206.48,"y":9.8},{"s":8,"g":1,"x":206.55,"y":9.4},{"s":8,"g":1,"x":206.7,"y":9.0},{"s":8,"g":1,"x":206.9,"y":8.8},{"s":8,"g":1,"x":207.1,"y":8.6},{"s":8,"g":1,"x":207.3,"y":8.5},{"s":8,"g":1,"x":207.42,"y":8.8},{"s":8,"g":1,"x":207.5,"y":8.2},{"s":8,"g":1,"x":207.65,"y":7.6},{"s":8,"g":1,"x":207.8,"y":7.1},{"s":8,"g":1,"x":208.0,"y":6.8},{"s":8,"g":1,"x":208.15,"y":6.6},{"s":8,"g":1,"x":208.3,"y":6.5},{"s":8,"g":1,"x":208.45,"y":7.0},{"s":8,"g":1,"x":208.55,"y":6.8},{"s":8,"g":1,"x":208.65,"y":6.2},{"s":8,"g":1,"x":208.75,"y":5.4},{"s":8,"g":1,"x":208.85,"y":4.7},{"s":8,"g":1,"x":209.0,"y":4.2},{"s":8,"g":1,"x":209.15,"y":4.1},{"s":8,"g":1,"x":209.3,"y":4.1},{"s":8,"g":1,"x":209.42,"y":4.6},{"s":8,"g":1,"x":209.5,"y":4.4},{"s":8,"g":1,"x":209.6,"y":4.0},{"s":8,"g":1,"x":209.75,"y":3.6},{"s":8,"g":1,"x":209.9,"y":3.5},{"s":8,"g":1,"x":210.1,"y":3.4},{"s":8,"g":1,"x":210.3,"y":3.4},{"s":8,"g":1,"x":210.6,"y":3.3},{"s":8,"g":1,"x":210.9,"y":3.2},{"s":8,"g":1,"x":211.2,"y":3.2},{"s":8,"g":1,"x":211.5,"y":3.1},{"s":8,"g":1,"x":211.8,"y":3.0},{"s":8,"g":1,"x":212.1,"y":2.9},{"s":8,"g":1,"x":212.4,"y":2.9},{"s":8,"g":1,"x":212.6,"y":2.8},{"s":8,"g":1,"x":212.8,"y":2.7},{"s":8,"g":1,"x":213.0,"y":2.8},{"s":8,"g":1,"x":213.3,"y":2.9},{"s":8,"g":1,"x":213.6,"y":2.9},
{"s":8,"g":2,"x":213.63,"y":14.0},{"s":8,"g":2,"x":213.64,"y":15.3},{"s":8,"g":2,"x":213.66,"y":16.1},{"s":8,"g":2,"x":213.7,"y":17.5},{"s":8,"g":2,"x":213.75,"y":18.2},{"s":8,"g":2,"x":213.85,"y":18.5},{"s":8,"g":2,"x":213.95,"y":18.3},{"s":8,"g":2,"x":214.05,"y":18.0},{"s":8,"g":2,"x":214.2,"y":17.6},{"s":8,"g":2,"x":214.3,"y":17.6},{"s":8,"g":2,"x":214.4,"y":17.9},{"s":8,"g":2,"x":214.5,"y":18.3},{"s":8,"g":2,"x":214.56,"y":17.8},{"s":8,"g":2,"x":214.62,"y":16.5},{"s":8,"g":2,"x":214.68,"y":15.2},{"s":8,"g":2,"x":214.75,"y":14.6},{"s":8,"g":2,"x":214.85,"y":14.0},{"s":8,"g":2,"x":214.95,"y":13.3},{"s":8,"g":2,"x":215.1,"y":12.8},{"s":8,"g":2,"x":215.25,"y":12.3},{"s":8,"g":2,"x":215.4,"y":12.0},{"s":8,"g":2,"x":215.5,"y":11.6},{"s":8,"g":2,"x":215.6,"y":11.0},{"s":8,"g":2,"x":215.68,"y":10.3},{"s":8,"g":2,"x":215.75,"y":9.7},{"s":8,"g":2,"x":215.8,"y":9.3},
{"s":8,"g":3,"x":215.85,"y":19.3},{"s":8,"g":3,"x":215.9,"y":18.9},{"s":8,"g":3,"x":215.97,"y":18.5},{"s":8,"g":3,"x":216.05,"y":18.0},{"s":8,"g":3,"x":216.15,"y":17.7},{"s":8,"g":3,"x":216.25,"y":17.9},{"s":8,"g":3,"x":216.35,"y":18.4},{"s":8,"g":3,"x":216.45,"y":18.6},{"s":8,"g":3,"x":216.5,"y":17.6},{"s":8,"g":3,"x":216.55,"y":16.2},{"s":8,"g":3,"x":216.6,"y":14.8},{"s":8,"g":3,"x":216.65,"y":13.5},{"s":8,"g":3,"x":216.7,"y":12.6},{"s":8,"g":3,"x":216.78,"y":12.2},{"s":8,"g":3,"x":216.85,"y":11.5},{"s":8,"g":3,"x":216.95,"y":10.8},{"s":8,"g":3,"x":217.1,"y":10.3},{"s":8,"g":3,"x":217.25,"y":10.0},{"s":8,"g":3,"x":217.4,"y":9.6},{"s":8,"g":3,"x":217.55,"y":8.9},{"s":8,"g":3,"x":217.7,"y":8.2},{"s":8,"g":3,"x":217.85,"y":7.8},{"s":8,"g":3,"x":218.0,"y":7.6},{"s":8,"g":3,"x":218.2,"y":7.5},{"s":8,"g":3,"x":218.4,"y":7.4},{"s":8,"g":3,"x":218.6,"y":7.2},{"s":8,"g":3,"x":218.8,"y":7.3},{"s":8,"g":3,"x":219.0,"y":7.5},{"s":8,"g":3,"x":219.2,"y":7.7},{"s":8,"g":3,"x":219.4,"y":8.1},{"s":8,"g":3,"x":219.55,"y":8.4},{"s":8,"g":3,"x":219.7,"y":8.6},{"s":8,"g":3,"x":219.85,"y":8.2},{"s":8,"g":3,"x":220.0,"y":7.8},{"s":8,"g":3,"x":220.15,"y":7.5},{"s":8,"g":3,"x":220.3,"y":7.3},{"s":8,"g":3,"x":220.45,"y":7.5},{"s":8,"g":3,"x":220.55,"y":7.0},{"s":8,"g":3,"x":220.65,"y":6.4},{"s":8,"g":3,"x":220.8,"y":5.8},{"s":8,"g":3,"x":220.95,"y":5.5},{"s":8,"g":3,"x":221.15,"y":5.5},{"s":8,"g":3,"x":221.35,"y":5.5},{"s":8,"g":3,"x":221.5,"y":5.6},{"s":8,"g":3,"x":221.6,"y":5.1},{"s":8,"g":3,"x":221.7,"y":4.4},{"s":8,"g":3,"x":221.85,"y":3.8},{"s":8,"g":3,"x":222.0,"y":3.6},{"s":8,"g":3,"x":222.2,"y":3.5},{"s":8,"g":3,"x":222.4,"y":3.5},{"s":8,"g":3,"x":222.5,"y":3.7},{"s":8,"g":3,"x":222.6,"y":3.4},{"s":8,"g":3,"x":222.8,"y":3.2},{"s":8,"g":3,"x":223.0,"y":3.2},{"s":8,"g":3,"x":223.3,"y":3.2},
{"s":8,"g":101,"x":210.6,"y":5.9},{"s":8,"g":102,"x":210.85,"y":3.8},{"s":8,"g":103,"x":211.85,"y":3.5},{"s":8,"g":104,"x":211.9,"y":3.7},{"s":8,"g":105,"x":212.75,"y":3.3}
]
},
"title": {"text": "Julian day (204–222)", "orient": "bottom", "anchor": "middle", "offset": 33, "dx": 34},
"vconcat": [
{
"title": {"text": "Surface soil smoisture (%)", "orient": "left", "anchor": "middle", "offset": 22},
"columns": 2,
"spacing": {"row": 75, "column": 83},
"bounds": "flush",
"concat": [
{
 "width": 477, "height": 382,
 "resolve": {"axis": {"x": "independent", "y": "independent"}},
 "layer": [
  {"data": {"name": "err"}, "transform": [{"filter": "datum.s == 5"}], "mark": {"type": "rule", "color": "#333", "strokeWidth": 1.4},
   "encoding": {"x": {"field": "x", "type": "quantitative", "scale": {"domain": [204, 223], "nice": false, "zero": false}, "axis": {"orient": "bottom", "values": [205, 210, 215, 220], "title": null}},
     "y": {"field": "lo", "type": "quantitative", "scale": {"domain": [0, 30], "nice": false, "zero": false}, "axis": {"orient": "left", "values": [0, 5, 10, 15, 20, 25, 30], "title": null}},
     "y2": {"field": "hi"}}},
  {"data": {"name": "err"}, "transform": [{"filter": "datum.s == 5"}], "mark": {"type": "tick", "orient": "horizontal", "size": 11, "thickness": 1.4, "color": "#333"},
   "encoding": {"x": {"field": "x", "type": "quantitative", "axis": null}, "y": {"field": "lo", "type": "quantitative", "axis": null}}},
  {"data": {"name": "err"}, "transform": [{"filter": "datum.s == 5"}], "mark": {"type": "tick", "orient": "horizontal", "size": 11, "thickness": 1.4, "color": "#333"},
   "encoding": {"x": {"field": "x", "type": "quantitative", "axis": null}, "y": {"field": "hi", "type": "quantitative", "axis": null}}},
  {"data": {"name": "err"}, "transform": [{"filter": "datum.s == 5"}], "mark": {"type": "tick", "orient": "horizontal", "size": 20, "thickness": 1.4, "color": "#333"},
   "encoding": {"x": {"field": "x", "type": "quantitative", "axis": null}, "y": {"field": "m", "type": "quantitative", "axis": null}}},
  {"data": {"name": "dot"}, "transform": [{"filter": "datum.s == 5"}], "mark": {"type": "line", "color": "#777", "strokeWidth": 1.8, "strokeDash": [1.5, 7.5]},
   "encoding": {"x": {"field": "x", "type": "quantitative", "axis": null}, "y": {"field": "y", "type": "quantitative", "axis": null}}},
  {"data": {"name": "mod"}, "transform": [{"filter": "datum.s == 5"}], "mark": {"type": "line", "color": "#222", "strokeWidth": 1.1},
   "encoding": {"x": {"field": "x", "type": "quantitative", "axis": null}, "y": {"field": "y", "type": "quantitative", "axis": null}}},
  {"data": {"name": "obs"}, "transform": [{"filter": "datum.s == 5"}], "mark": {"type": "line", "color": "#000", "strokeWidth": 5.5, "strokeJoin": "round", "strokeCap": "round"},
   "encoding": {"x": {"field": "x", "type": "quantitative", "axis": null}, "y": {"field": "y", "type": "quantitative", "axis": null}, "detail": {"field": "g", "type": "nominal"}}},
  {"data": {"name": "obs"}, "transform": [{"filter": "datum.s == 5"}], "mark": {"type": "point", "filled": true, "color": "#000", "size": 30, "opacity": 1},
   "encoding": {"x": {"field": "x", "type": "quantitative", "axis": null}, "y": {"field": "y", "type": "quantitative", "axis": null}}},
  {"data": {"values": [{}]}, "mark": {"type": "text", "text": "Site 5", "font": "Liberation Serif", "fontSize": 44, "align": "left", "baseline": "alphabetic", "color": "#000"},
   "encoding": {"x": {"datum": 204.85, "type": "quantitative", "axis": null}, "y": {"datum": 21.9, "type": "quantitative", "axis": null}}},
  {"data": {"values": [{}]}, "mark": {"type": "point", "opacity": 0},
   "encoding": {"x": {"datum": 210, "type": "quantitative", "axis": {"orient": "top", "values": [205, 210, 215, 220], "title": null}}, "y": {"datum": 10, "type": "quantitative", "axis": {"orient": "right", "values": [0, 5, 10, 15, 20, 25, 30], "title": null}}}}
 ]
},
{
 "width": 480, "height": 382,
 "resolve": {"axis": {"x": "independent", "y": "independent"}},
 "layer": [
  {"data": {"name": "err"}, "transform": [{"filter": "datum.s == 6"}], "mark": {"type": "rule", "color": "#333", "strokeWidth": 1.4},
   "encoding": {"x": {"field": "x", "type": "quantitative", "scale": {"domain": [204, 223.3], "nice": false, "zero": false}, "axis": {"orient": "bottom", "values": [205, 210, 215, 220], "title": null}},
     "y": {"field": "lo", "type": "quantitative", "scale": {"domain": [0, 30], "nice": false, "zero": false}, "axis": {"orient": "left", "values": [0, 5, 10, 15, 20, 25, 30], "title": null}},
     "y2": {"field": "hi"}}},
  {"data": {"name": "err"}, "transform": [{"filter": "datum.s == 6"}], "mark": {"type": "tick", "orient": "horizontal", "size": 11, "thickness": 1.4, "color": "#333"},
   "encoding": {"x": {"field": "x", "type": "quantitative", "axis": null}, "y": {"field": "lo", "type": "quantitative", "axis": null}}},
  {"data": {"name": "err"}, "transform": [{"filter": "datum.s == 6"}], "mark": {"type": "tick", "orient": "horizontal", "size": 11, "thickness": 1.4, "color": "#333"},
   "encoding": {"x": {"field": "x", "type": "quantitative", "axis": null}, "y": {"field": "hi", "type": "quantitative", "axis": null}}},
  {"data": {"name": "err"}, "transform": [{"filter": "datum.s == 6"}], "mark": {"type": "tick", "orient": "horizontal", "size": 20, "thickness": 1.4, "color": "#333"},
   "encoding": {"x": {"field": "x", "type": "quantitative", "axis": null}, "y": {"field": "m", "type": "quantitative", "axis": null}}},
  {"data": {"name": "dot"}, "transform": [{"filter": "datum.s == 6"}], "mark": {"type": "line", "color": "#777", "strokeWidth": 1.8, "strokeDash": [1.5, 7.5], "clip": true},
   "encoding": {"x": {"field": "x", "type": "quantitative", "axis": null}, "y": {"field": "y", "type": "quantitative", "axis": null}}},
  {"data": {"name": "mod"}, "transform": [{"filter": "datum.s == 6"}], "mark": {"type": "line", "color": "#222", "strokeWidth": 1.1, "clip": true},
   "encoding": {"x": {"field": "x", "type": "quantitative", "axis": null}, "y": {"field": "y", "type": "quantitative", "axis": null}}},
  {"data": {"name": "obs"}, "transform": [{"filter": "datum.s == 6"}], "mark": {"type": "line", "color": "#000", "strokeWidth": 5.5, "strokeJoin": "round", "strokeCap": "round", "clip": true},
   "encoding": {"x": {"field": "x", "type": "quantitative", "axis": null}, "y": {"field": "y", "type": "quantitative", "axis": null}, "detail": {"field": "g", "type": "nominal"}}},
  {"data": {"name": "obs"}, "transform": [{"filter": "datum.s == 6"}], "mark": {"type": "point", "filled": true, "color": "#000", "size": 30, "opacity": 1, "clip": true},
   "encoding": {"x": {"field": "x", "type": "quantitative", "axis": null}, "y": {"field": "y", "type": "quantitative", "axis": null}}},
  {"data": {"values": [{}]}, "mark": {"type": "text", "text": "Site 6", "font": "Liberation Serif", "fontSize": 44, "align": "left", "baseline": "alphabetic", "color": "#000"},
   "encoding": {"x": {"datum": 205.03, "type": "quantitative", "axis": null}, "y": {"datum": 21.9, "type": "quantitative", "axis": null}}},
  {"data": {"values": [{}]}, "mark": {"type": "point", "opacity": 0},
   "encoding": {"x": {"datum": 210, "type": "quantitative", "axis": {"orient": "top", "values": [205, 210, 215, 220], "title": null}}, "y": {"datum": 10, "type": "quantitative", "axis": {"orient": "right", "values": [0, 5, 10, 15, 20, 25, 30], "title": null, "domain": false}}}}
 ]
},
{
 "width": 477, "height": 382,
 "resolve": {"axis": {"x": "independent", "y": "independent"}},
 "layer": [
  {"data": {"name": "err"}, "transform": [{"filter": "datum.s == 7"}], "mark": {"type": "rule", "color": "#333", "strokeWidth": 1.4},
   "encoding": {"x": {"field": "x", "type": "quantitative", "scale": {"domain": [204, 223], "nice": false, "zero": false}, "axis": {"orient": "bottom", "values": [205, 210, 215, 220], "title": null}},
     "y": {"field": "lo", "type": "quantitative", "scale": {"domain": [0, 30], "nice": false, "zero": false}, "axis": {"orient": "left", "values": [0, 5, 10, 15, 20, 25, 30], "title": null}},
     "y2": {"field": "hi"}}},
  {"data": {"name": "err"}, "transform": [{"filter": "datum.s == 7"}], "mark": {"type": "tick", "orient": "horizontal", "size": 11, "thickness": 1.4, "color": "#333"},
   "encoding": {"x": {"field": "x", "type": "quantitative", "axis": null}, "y": {"field": "lo", "type": "quantitative", "axis": null}}},
  {"data": {"name": "err"}, "transform": [{"filter": "datum.s == 7"}], "mark": {"type": "tick", "orient": "horizontal", "size": 11, "thickness": 1.4, "color": "#333"},
   "encoding": {"x": {"field": "x", "type": "quantitative", "axis": null}, "y": {"field": "hi", "type": "quantitative", "axis": null}}},
  {"data": {"name": "err"}, "transform": [{"filter": "datum.s == 7"}], "mark": {"type": "tick", "orient": "horizontal", "size": 20, "thickness": 1.4, "color": "#333"},
   "encoding": {"x": {"field": "x", "type": "quantitative", "axis": null}, "y": {"field": "m", "type": "quantitative", "axis": null}}},
  {"data": {"name": "dot"}, "transform": [{"filter": "datum.s == 7"}], "mark": {"type": "line", "color": "#777", "strokeWidth": 1.8, "strokeDash": [1.5, 7.5]},
   "encoding": {"x": {"field": "x", "type": "quantitative", "axis": null}, "y": {"field": "y", "type": "quantitative", "axis": null}}},
  {"data": {"name": "mod"}, "transform": [{"filter": "datum.s == 7"}], "mark": {"type": "line", "color": "#222", "strokeWidth": 1.1},
   "encoding": {"x": {"field": "x", "type": "quantitative", "axis": null}, "y": {"field": "y", "type": "quantitative", "axis": null}}},
  {"data": {"name": "obs"}, "transform": [{"filter": "datum.s == 7"}], "mark": {"type": "line", "color": "#000", "strokeWidth": 5.5, "strokeJoin": "round", "strokeCap": "round"},
   "encoding": {"x": {"field": "x", "type": "quantitative", "axis": null}, "y": {"field": "y", "type": "quantitative", "axis": null}, "detail": {"field": "g", "type": "nominal"}}},
  {"data": {"name": "obs"}, "transform": [{"filter": "datum.s == 7"}], "mark": {"type": "point", "filled": true, "color": "#000", "size": 30, "opacity": 1},
   "encoding": {"x": {"field": "x", "type": "quantitative", "axis": null}, "y": {"field": "y", "type": "quantitative", "axis": null}}},
  {"data": {"values": [{}]}, "mark": {"type": "text", "text": "Site 7", "font": "Liberation Serif", "fontSize": 44, "align": "left", "baseline": "alphabetic", "color": "#000"},
   "encoding": {"x": {"datum": 204.85, "type": "quantitative", "axis": null}, "y": {"datum": 22.0, "type": "quantitative", "axis": null}}},
  {"data": {"values": [{}]}, "mark": {"type": "point", "opacity": 0},
   "encoding": {"x": {"datum": 210, "type": "quantitative", "axis": {"orient": "top", "values": [205, 210, 215, 220], "title": null}}, "y": {"datum": 10, "type": "quantitative", "axis": {"orient": "right", "values": [0, 5, 10, 15, 20, 25, 30], "title": null}}}}
 ]
},
{
 "width": 480, "height": 382,
 "resolve": {"axis": {"x": "independent", "y": "independent"}},
 "layer": [
  {"data": {"name": "err"}, "transform": [{"filter": "datum.s == 8"}], "mark": {"type": "rule", "color": "#333", "strokeWidth": 1.4},
   "encoding": {"x": {"field": "x", "type": "quantitative", "scale": {"domain": [204, 223.3], "nice": false, "zero": false}, "axis": {"orient": "bottom", "values": [205, 210, 215, 220], "title": null}},
     "y": {"field": "lo", "type": "quantitative", "scale": {"domain": [0, 30], "nice": false, "zero": false}, "axis": {"orient": "left", "values": [0, 5, 10, 15, 20, 25, 30], "title": null}},
     "y2": {"field": "hi"}}},
  {"data": {"name": "err"}, "transform": [{"filter": "datum.s == 8"}], "mark": {"type": "tick", "orient": "horizontal", "size": 11, "thickness": 1.4, "color": "#333"},
   "encoding": {"x": {"field": "x", "type": "quantitative", "axis": null}, "y": {"field": "lo", "type": "quantitative", "axis": null}}},
  {"data": {"name": "err"}, "transform": [{"filter": "datum.s == 8"}], "mark": {"type": "tick", "orient": "horizontal", "size": 11, "thickness": 1.4, "color": "#333"},
   "encoding": {"x": {"field": "x", "type": "quantitative", "axis": null}, "y": {"field": "hi", "type": "quantitative", "axis": null}}},
  {"data": {"name": "err"}, "transform": [{"filter": "datum.s == 8"}], "mark": {"type": "tick", "orient": "horizontal", "size": 20, "thickness": 1.4, "color": "#333"},
   "encoding": {"x": {"field": "x", "type": "quantitative", "axis": null}, "y": {"field": "m", "type": "quantitative", "axis": null}}},
  {"data": {"name": "dot"}, "transform": [{"filter": "datum.s == 8"}], "mark": {"type": "line", "color": "#777", "strokeWidth": 1.8, "strokeDash": [1.5, 7.5], "clip": true},
   "encoding": {"x": {"field": "x", "type": "quantitative", "axis": null}, "y": {"field": "y", "type": "quantitative", "axis": null}}},
  {"data": {"name": "mod"}, "transform": [{"filter": "datum.s == 8"}], "mark": {"type": "line", "color": "#222", "strokeWidth": 1.1, "clip": true},
   "encoding": {"x": {"field": "x", "type": "quantitative", "axis": null}, "y": {"field": "y", "type": "quantitative", "axis": null}}},
  {"data": {"name": "obs"}, "transform": [{"filter": "datum.s == 8"}], "mark": {"type": "line", "color": "#000", "strokeWidth": 5.5, "strokeJoin": "round", "strokeCap": "round", "clip": true},
   "encoding": {"x": {"field": "x", "type": "quantitative", "axis": null}, "y": {"field": "y", "type": "quantitative", "axis": null}, "detail": {"field": "g", "type": "nominal"}}},
  {"data": {"name": "obs"}, "transform": [{"filter": "datum.s == 8"}], "mark": {"type": "point", "filled": true, "color": "#000", "size": 30, "opacity": 1, "clip": true},
   "encoding": {"x": {"field": "x", "type": "quantitative", "axis": null}, "y": {"field": "y", "type": "quantitative", "axis": null}}},
  {"data": {"values": [{}]}, "mark": {"type": "text", "text": "Site 8", "font": "Liberation Serif", "fontSize": 44, "align": "left", "baseline": "alphabetic", "color": "#000"},
   "encoding": {"x": {"datum": 205.03, "type": "quantitative", "axis": null}, "y": {"datum": 22.0, "type": "quantitative", "axis": null}}},
  {"data": {"values": [{}]}, "mark": {"type": "point", "opacity": 0},
   "encoding": {"x": {"datum": 210, "type": "quantitative", "axis": {"orient": "top", "values": [205, 210, 215, 220], "title": null}}, "y": {"datum": 10, "type": "quantitative", "axis": {"orient": "right", "values": [0, 5, 10, 15, 20, 25, 30], "title": null, "domain": false}}}}
 ]
}
]
}
]
}
